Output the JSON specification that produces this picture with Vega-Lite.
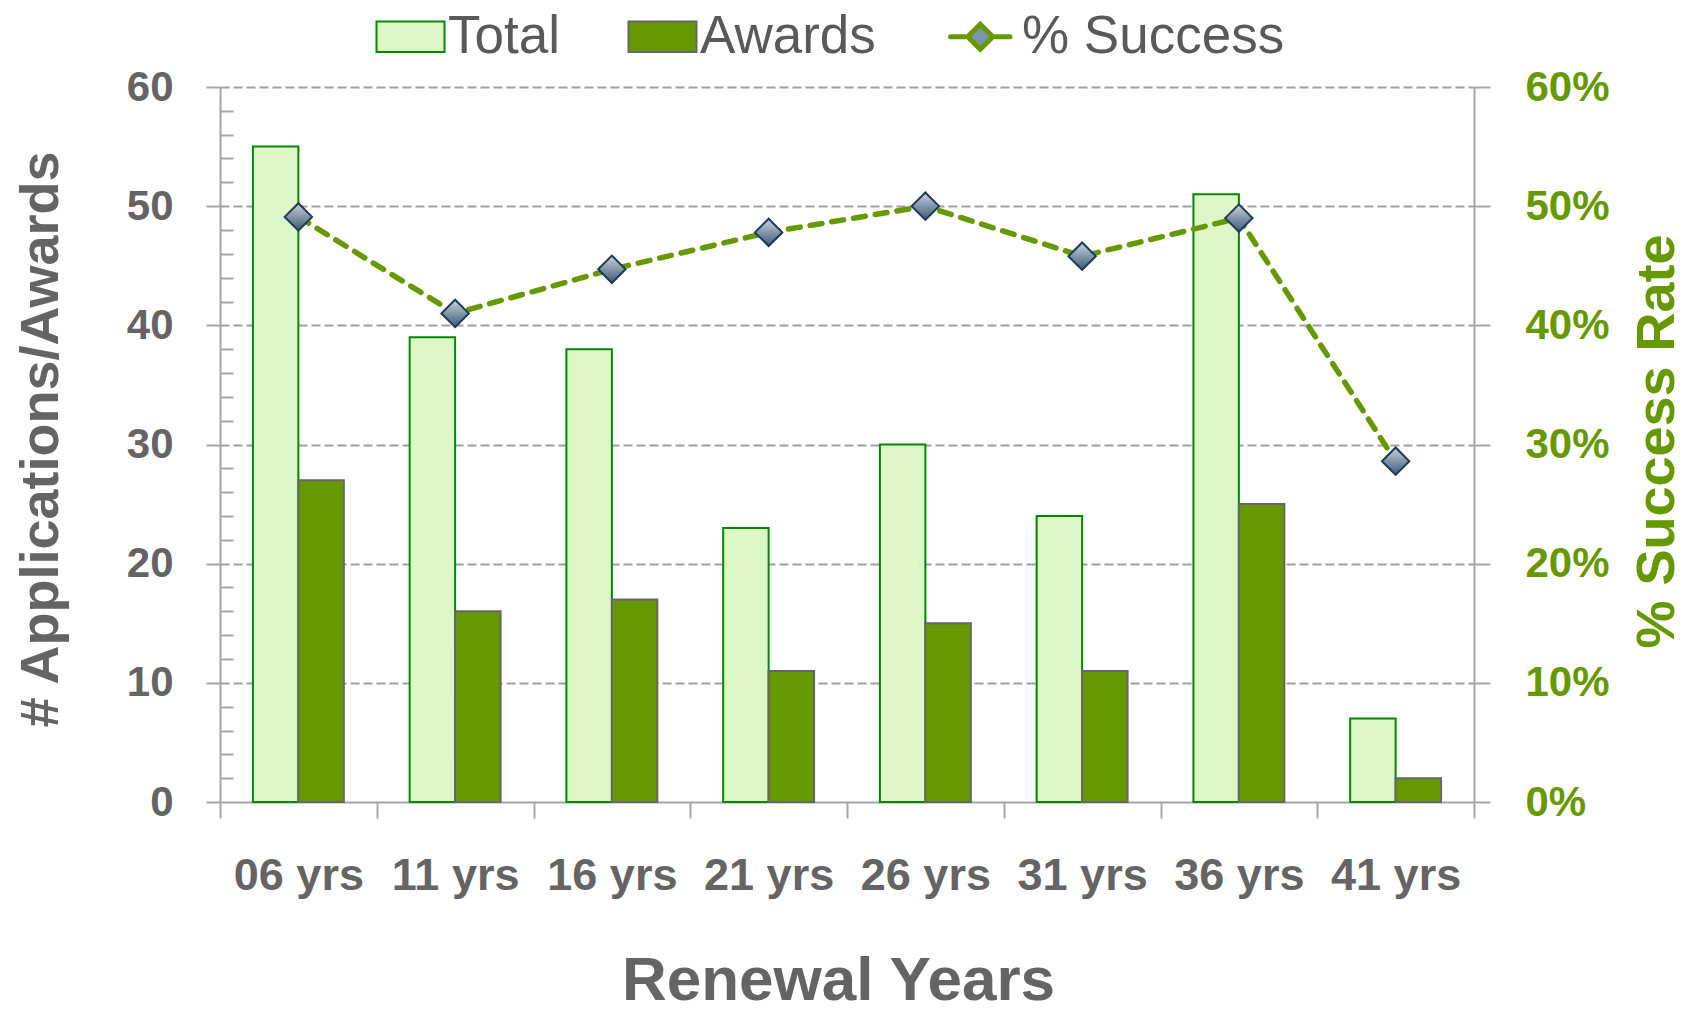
{
  "$schema": "https://vega.github.io/schema/vega-lite/v6.json",
  "width": 1254,
  "height": 715,
  "autosize": {"type": "none"},
  "padding": {"left": 220, "top": 87, "right": 222, "bottom": 210},
  "background": "white",
  "config": {"view": {"stroke": null}},
  "datasets": {
    "counts": [
      {"cat": "06 yrs", "series": "Total", "value": 55},
      {"cat": "06 yrs", "series": "Awards", "value": 27},
      {"cat": "11 yrs", "series": "Total", "value": 39},
      {"cat": "11 yrs", "series": "Awards", "value": 16},
      {"cat": "16 yrs", "series": "Total", "value": 38},
      {"cat": "16 yrs", "series": "Awards", "value": 17},
      {"cat": "21 yrs", "series": "Total", "value": 23},
      {"cat": "21 yrs", "series": "Awards", "value": 11},
      {"cat": "26 yrs", "series": "Total", "value": 30},
      {"cat": "26 yrs", "series": "Awards", "value": 15},
      {"cat": "31 yrs", "series": "Total", "value": 24},
      {"cat": "31 yrs", "series": "Awards", "value": 11},
      {"cat": "36 yrs", "series": "Total", "value": 51},
      {"cat": "36 yrs", "series": "Awards", "value": 25},
      {"cat": "41 yrs", "series": "Total", "value": 7},
      {"cat": "41 yrs", "series": "Awards", "value": 2}
    ],
    "rates": [
      {"cat": "06 yrs", "rate": 0.491},
      {"cat": "11 yrs", "rate": 0.41},
      {"cat": "16 yrs", "rate": 0.447},
      {"cat": "21 yrs", "rate": 0.478},
      {"cat": "26 yrs", "rate": 0.5},
      {"cat": "31 yrs", "rate": 0.458},
      {"cat": "36 yrs", "rate": 0.49},
      {"cat": "41 yrs", "rate": 0.286}
    ]
  },
  "layer": [
    {
      "data": {"name": "counts"},
      "mark": {"type": "bar", "strokeWidth": 2},
      "encoding": {
        "x": {
          "field": "cat", "type": "nominal", "sort": null,
          "scale": {"paddingInner": 0, "paddingOuter": 0},
          "axis": {
            "orient": "bottom", "tickBand": "extent", "tickSize": 16,
            "tickColor": "#A6A6A6", "tickWidth": 2,
            "domainColor": "#A6A6A6", "domainWidth": 2,
            "labelAngle": 0, "labelFont": "Liberation Sans", "labelFontWeight": "bold",
            "labelFontSize": 45, "labelColor": "#646464", "labelBaseline": "alphabetic",
            "labelPadding": 71, "labelLimit": 0,
            "title": "Renewal Years", "titleFont": "Liberation Sans", "titleFontWeight": "bold",
            "titleFontSize": 62, "titleColor": "#646464", "titleX": 618, "titleY": 197,
            "titleBaseline": "alphabetic", "titleAlign": "center"
          }
        },
        "xOffset": {
          "field": "series", "type": "nominal",
          "scale": {"domain": ["Total", "Awards"], "paddingInner": 0, "paddingOuter": 0.724}
        },
        "y": {
          "field": "value", "type": "quantitative",
          "scale": {"domain": [0, 60], "nice": false},
          "axis": {
            "orient": "left",
            "values": [0, 2, 4, 6, 8, 10, 12, 14, 16, 18, 20, 22, 24, 26, 28, 30, 32, 34, 36, 38, 40, 42, 44, 46, 48, 50, 52, 54, 56, 58, 60],
            "labelExpr": "datum.value % 10 === 0 ? datum.label : ''",
            "labelOverlap": false, "labelFlush": false,
            "grid": true, "gridDash": [9, 4], "gridColor": "#A0A0A0", "gridWidth": 2,
            "gridOpacity": {"condition": {"test": "datum.value % 10 === 0 && datum.value > 0", "value": 1}, "value": 0},
            "tickSize": {"condition": {"test": "datum.value % 10 === 0", "value": 14}, "value": -13},
            "tickColor": "#A6A6A6", "tickWidth": 2,
            "domainColor": "#A6A6A6", "domainWidth": 2,
            "labelFont": "Liberation Sans", "labelFontWeight": "bold", "labelFontSize": 42,
            "labelColor": "#646464", "labelPadding": 33,
            "title": "# Applications/Awards", "titleFont": "Liberation Sans", "titleFontWeight": "bold",
            "titleFontSize": 54, "titleColor": "#646464", "titleAngle": 270, "titleAlign": "center",
            "titleBaseline": "alphabetic", "titleX": -163, "titleY": 352
          }
        },
        "fill": {
          "field": "series", "type": "nominal",
          "scale": {"domain": ["Total", "Awards", "% Success"], "range": ["#DEF7C6", "#669900", "#7D93AA"]},
          "legend": {
            "orient": "none", "legendX": 164, "legendY": -77, "direction": "horizontal",
            "title": null, "padding": 0,
            "labelFont": "Liberation Sans", "labelFontSize": 53, "labelColor": "#595959",
            "labelLimit": 0, "symbolSize": 4624, "labelOffset": 11, "columnPadding": 64,
            "encode": {
              "symbols": {
                "update": {
                  "shape": {"signal": "datum.value === '% Success' ? 'M-1,0H-0.58M0.33,0H0.75M-0.125,-0.37L0.245,0L-0.125,0.37L-0.495,0Z' : 'M-1,-0.45H1V0.45H-1Z'"},
                  "stroke": {"signal": "datum.value === 'Total' ? '#008A00' : datum.value === 'Awards' ? '#666666' : '#669900'"},
                  "strokeWidth": {"signal": "datum.value === '% Success' ? 5 : 2"},
                  "strokeCap": {"value": "round"}
                }
              }
            }
          }
        },
        "stroke": {
          "field": "series", "type": "nominal",
          "scale": {"domain": ["Total", "Awards"], "range": ["#008A00", "#666666"]},
          "legend": null
        }
      }
    },
    {
      "data": {"name": "rates"},
      "encoding": {
        "x": {
          "field": "cat", "type": "nominal", "sort": null,
          "scale": {"paddingInner": 0, "paddingOuter": 0}
        },
        "y": {
          "field": "rate", "type": "quantitative",
          "scale": {"domain": [0, 0.6], "nice": false},
          "axis": {
            "orient": "right", "values": [0, 0.1, 0.2, 0.3, 0.4, 0.5, 0.6], "format": ".0%",
            "grid": false, "tickSize": 16, "tickColor": "#A6A6A6", "tickWidth": 2,
            "domainColor": "#A6A6A6", "domainWidth": 2,
            "labelFont": "Liberation Sans", "labelFontWeight": "bold", "labelFontSize": 42,
            "labelColor": "#669900", "labelPadding": 35, "labelOverlap": false, "labelFlush": false,
            "title": "% Success Rate", "titleFont": "Liberation Sans", "titleFontWeight": "bold",
            "titleFontSize": 54, "titleColor": "#669900", "titleAngle": 270, "titleAlign": "center",
            "titleBaseline": "alphabetic", "titleX": 199, "titleY": 354
          }
        }
      },
      "layer": [
        {"mark": {"type": "line", "color": "#669900", "strokeWidth": 5.5, "strokeDash": [12, 10], "strokeCap": "round"}},
        {"mark": {
          "type": "point", "shape": "diamond", "filled": true, "size": 750, "opacity": 1,
          "fill": {"gradient": "linear", "x1": 0, "y1": 0, "x2": 0, "y2": 1,
                   "stops": [{"offset": 0, "color": "#C9D3DD"}, {"offset": 1, "color": "#3E5A76"}]},
          "stroke": "#1B3A57", "strokeWidth": 2
        }}
      ]
    }
  ],
  "resolve": {"scale": {"y": "independent"}}
}
